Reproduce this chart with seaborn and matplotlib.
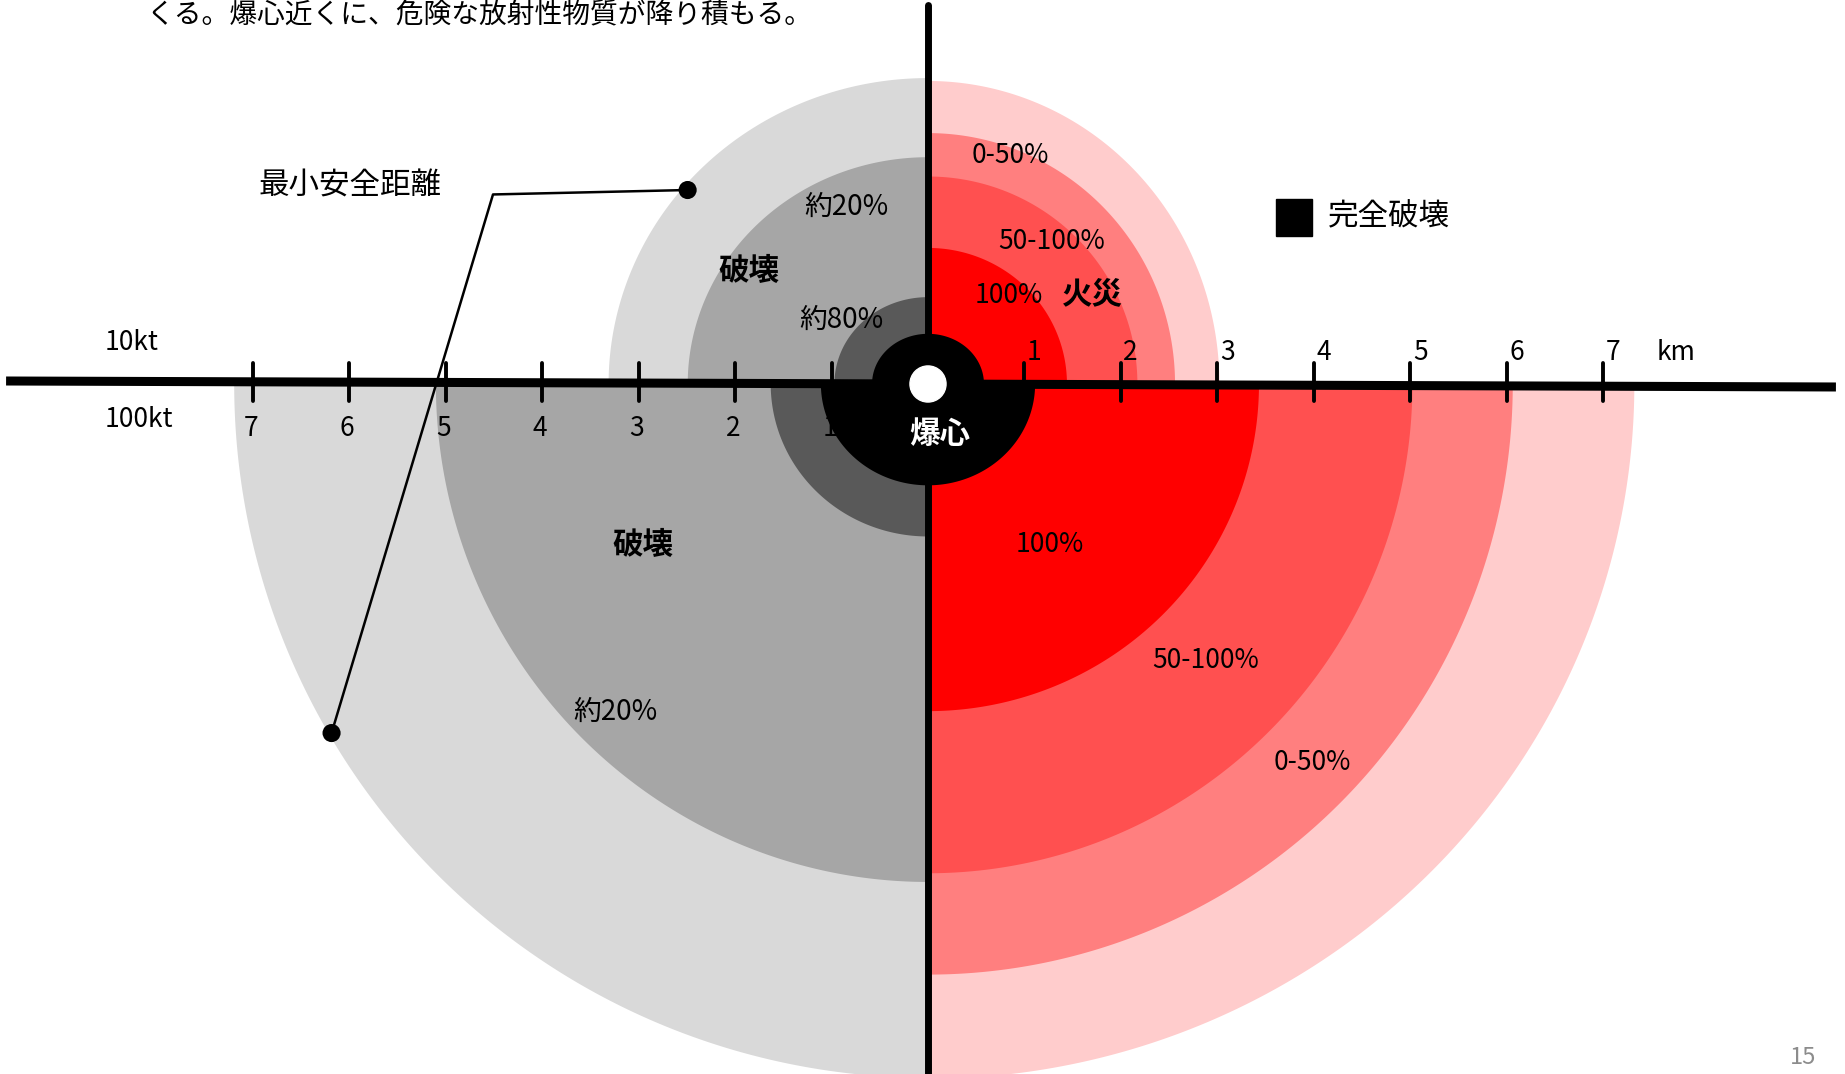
import numpy as np
import matplotlib
matplotlib.use("Agg")
import matplotlib.pyplot as plt
from matplotlib.patches import Rectangle, Circle
import seaborn as sns

# radii in km (outer -> inner), horizontal / vertical
blast_10kt_rx = [3.31, 2.49, 0.97]
blast_10kt_ry = [3.17, 2.35, 0.90]
fire_10kt_rx = [3.02, 2.56, 2.17, 1.44]
fire_10kt_ry = [3.14, 2.60, 2.15, 1.41]
blast_100kt_rx = [7.19, 5.10, 1.63]
blast_100kt_ry = [7.19, 5.16, 1.58]
fire_100kt_rx = [7.32, 6.06, 5.02, 3.43]
fire_100kt_ry = [7.20, 6.12, 5.07, 3.39]
total_10kt = (0.58, 0.52)
total_100kt = (1.11, 1.05)

blast_colors = ["#D9D9D9", "#A6A6A6", "#595959"]
fire_colors = ["#FFCCCC", "#FF7F7F", "#FF5050", "#FF0000"]

km_ticks = [1, 2, 3, 4, 5, 6, 7]
tick_labels = ["1", "2", "3", "4", "5", "6", "7"]

sns.set_theme(style="white")
plt.rcParams["font.family"] = ["Noto Sans CJK JP", "DejaVu Sans"]
plt.rcParams["text.color"] = "black"

fig = plt.figure(figsize=(18.45, 10.74), dpi=100)
ax = fig.add_axes([0, 0, 1, 1])
ax.set_xlim(-9.617, 9.503)
ax.set_ylim(-7.150, 3.979)
ax.axis("off")


def half_ring(rx, ry, a0, a1, color, z=1):
    t = np.radians(np.linspace(a0, a1, 240))
    xs = np.concatenate([[0], rx * np.cos(t), [0]])
    ys = np.concatenate([[0], ry * np.sin(t), [0]])
    ax.fill(xs, ys, color=color, lw=0, zorder=z)


# quarters: 10kt above the axis, 100kt below; blast left, fire right
for rx, ry, c in zip(blast_10kt_rx, blast_10kt_ry, blast_colors):
    half_ring(rx, ry, 90, 180, c)
for rx, ry, c in zip(fire_10kt_rx, fire_10kt_ry, fire_colors):
    half_ring(rx, ry, 0, 90, c)
for rx, ry, c in zip(blast_100kt_rx, blast_100kt_ry, blast_colors):
    half_ring(rx, ry, 180, 270, c)
for rx, ry, c in zip(fire_100kt_rx, fire_100kt_ry, fire_colors):
    half_ring(rx, ry, 270, 360, c)

# complete destruction zones
half_ring(total_10kt[0], total_10kt[1], 0, 180, "black", z=2)
half_ring(total_100kt[0], total_100kt[1], 180, 360, "black", z=2)

# axes of the diagram
ax.plot([-9.554, 9.409], [0.031, -0.031], color="black", lw=6.5, zorder=3,
        solid_capstyle="butt")
ax.plot([0, 0], [3.927, -7.2], color="black", lw=5, zorder=3)

for k, lab in zip(km_ticks, tick_labels):
    for sgn in (-1, 1):
        ax.plot([sgn * k, sgn * k], [-0.18, 0.22], color="black", lw=2.8, zorder=3)
    ax.text(k + 0.1, 0.33, lab, fontsize=19, ha="center", va="center", zorder=6)
    ax.text(-k - 0.02, -0.46, lab, fontsize=19, ha="center", va="center", zorder=6)
ax.text(7.751, 0.33, "km", fontsize=19, ha="center", va="center", zorder=6)
ax.text(-8.249, 0.435, "10kt", fontsize=19, ha="center", va="center")
ax.text(-8.176, -0.368, "100kt", fontsize=19, ha="center", va="center")

# ground zero
ax.add_patch(Circle((0, 0), 0.187, color="white", zorder=5))
ax.text(0.124, -0.518, "爆心", color="white", fontsize=22, fontweight="bold",
        ha="center", va="center", zorder=6)

# zone labels
labels = [
    (-0.842, 1.837, "約20%", 20, "normal"),
    (-1.852, 1.174, "破壊", 22, "bold"),
    (-0.894, 0.663, "約80%", 20, "normal"),
    (0.850, 2.366, "0-50%", 19, "normal"),
    (1.282, 1.475, "50-100%", 19, "normal"),
    (0.842, 0.912, "100%", 19, "normal"),
    (1.707, 0.922, "火災", 22, "bold"),
    (-2.953, -1.668, "破壊", 22, "bold"),
    (-3.244, -3.399, "約20%", 20, "normal"),
    (1.264, -1.664, "100%", 19, "normal"),
    (2.881, -2.870, "50-100%", 19, "normal"),
    (3.979, -3.922, "0-50%", 19, "normal"),
]
for x, y, s, fs, w in labels:
    ax.text(x, y, s, fontsize=fs, fontweight=w, ha="center", va="center", zorder=6)

# minimum safe distance leader
lead_x = [-6.181, -4.508, -2.491]
lead_y = [-3.617, 1.964, 2.010]
ax.plot(lead_x, lead_y, color="black", lw=1.8, zorder=4)
sns.scatterplot(x=[lead_x[0], lead_x[-1]], y=[lead_y[0], lead_y[-1]], ax=ax,
                color="black", s=170, edgecolor="none", zorder=4)
ax.text(-5.99, 2.05, "最小安全距離", fontsize=22, ha="center", va="center")

# legend
ax.add_patch(Rectangle((3.606, 1.534), 0.373, 0.383, color="black", zorder=4))
ax.text(4.772, 1.731, "完全破壊", fontsize=22, ha="center", va="center")

ax.text(-4.653, 3.82, "くる。爆心近くに、危険な放射性物質が降り積もる。",
        fontsize=20, ha="center", va="center")
ax.text(9.067, -6.984, "15", fontsize=17, color="#8C8C8C", ha="center", va="center")

fig.savefig("out.png", dpi=100)
